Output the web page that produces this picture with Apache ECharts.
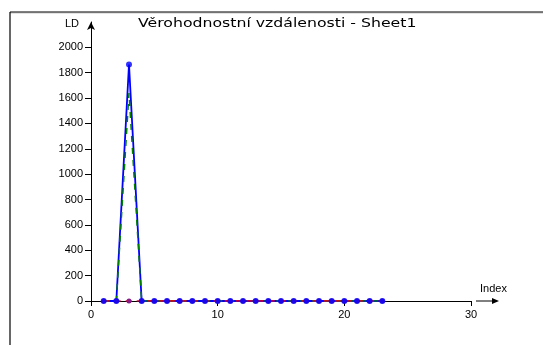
<!DOCTYPE html>
<html>
<head>
<meta charset="utf-8">
<script src="https://cdn.jsdelivr.net/npm/echarts@6/dist/echarts.min.js"></script>
<style>
  html, body { margin: 0; padding: 0; background: #fff; }
  #chart { width: 543px; height: 345px; }
</style>
</head>
<body>
<div id="chart"></div>
<script>
// Likelihood distances per index
const indexValues = [1,2,3,4,5,6,7,8,9,10,11,12,13,14,15,16,17,18,19,20,21,22,23];
const ldBlue  = [0,0,1865,0,0,0,0,0,0,0,0,0,0,0,0,0,0,0,0,0,0,0,0];
const ldGreen = [0,0,1640,0,0,0,0,0,0,0,0,0,0,0,0,0,0,0,0,0,0,0,0];
const ldRed   = [0,0,0,0,0,0,0,0,0,0,0,0,0,0,0,0,0,0,0,0,0,0,0];
const yTicks = [0,200,400,600,800,1000,1200,1400,1600,1800,2000];
const xTicks = [0,10,20,30];
const titleText = 'Věrohodnostní vzdálenosti - Sheet1';

const pairs = (ys) => indexValues.map((x, i) => [x, ys[i]]);
const FONT = 'Liberation Sans, Arial, sans-serif';

const chart = echarts.init(document.getElementById('chart'), null, { renderer: 'canvas' });

const option = {
  animation: false,
  backgroundColor: '#ffffff',
  grid: { left: 91, right: 72, top: 22, bottom: 44, containLabel: false },
  xAxis: {
    type: 'value', min: 0, max: 30, interval: 10,
    splitLine: { show: false },
    axisLine: { show: true, onZero: false, lineStyle: { color: '#000', width: 1 } },
    axisTick: { show: true, inside: false, length: 5, lineStyle: { color: '#000' } },
    axisLabel: { margin: 8, fontFamily: FONT, fontSize: 11, color: '#000',
      customValues: xTicks }
  },
  yAxis: {
    type: 'value', min: 0, max: 2200,
    splitLine: { show: false },
    axisLine: { show: true, lineStyle: { color: '#000', width: 1 },
      symbol: ['none', 'arrow'], symbolSize: [6, 8], symbolOffset: [0, 0] },
    axisTick: { show: true, length: 6, lineStyle: { color: '#000' }, customValues: yTicks },
    axisLabel: { margin: 8, fontFamily: FONT, fontSize: 11, color: '#000', customValues: yTicks,
      formatter: (v) => String(v) }
  },
  graphic: [
    // frame: top and left edges
    { type: 'line', shape: { x1: 10, y1: 13, x2: 543, y2: 13 }, style: { stroke: '#c8c8c8', lineWidth: 1 }, silent: true },
    { type: 'line', shape: { x1: 10, y1: 12, x2: 543, y2: 12 }, style: { stroke: '#000', lineWidth: 1.2 }, silent: true },
    { type: 'line', shape: { x1: 10, y1: 12, x2: 10, y2: 345 }, style: { stroke: '#000', lineWidth: 1.2 }, silent: true },
    // chart title, widened
    { type: 'text', x: 138, y: 18, scaleX: 1.31, scaleY: 1, silent: true,
      style: { text: titleText, font: '12px DejaVu Sans', fill: '#000', textVerticalAlign: 'top' } },
    // x-axis direction arrow
    { type: 'line', shape: { x1: 476, y1: 301, x2: 496, y2: 301 }, style: { stroke: '#000', lineWidth: 1 }, silent: true },
    { type: 'polygon', shape: { points: [[492, 298], [499, 301], [492, 304]] }, style: { fill: '#000' }, silent: true },
    // axis names
    { type: 'text', x: 480, y: 283, silent: true,
      style: { text: 'Index', font: '11px ' + FONT, fill: '#000', textVerticalAlign: 'top' } },
    { type: 'text', x: 65, y: 18, silent: true,
      style: { text: 'LD', font: '11px ' + FONT, fill: '#000', textVerticalAlign: 'top' } }
  ],
  series: [
    {
      name: 'blue', type: 'line', data: pairs(ldBlue), z: 2,
      showSymbol: false, symbol: 'none',
      lineStyle: { color: '#0000ff', width: 1.8 }
    },
    {
      name: 'green', type: 'line', data: pairs(ldGreen), z: 3,
      symbol: 'none',
      lineStyle: { color: '#008000', width: 1.5, type: [6, 6] }
    },
    {
      name: 'red', type: 'line', data: pairs(ldRed), z: 4,
      symbol: 'circle', symbolSize: 5,
      itemStyle: { color: '#8a1a8a' },
      lineStyle: { color: '#ff0000', width: 1.5, type: [6, 5] }
    },
    {
      name: 'blue points', type: 'scatter', data: pairs(ldBlue), z: 5,
      symbol: 'circle', symbolSize: 6,
      itemStyle: { color: '#0000ff' }
    }
  ]
};
chart.setOption(option);
</script>
</body>
</html>
